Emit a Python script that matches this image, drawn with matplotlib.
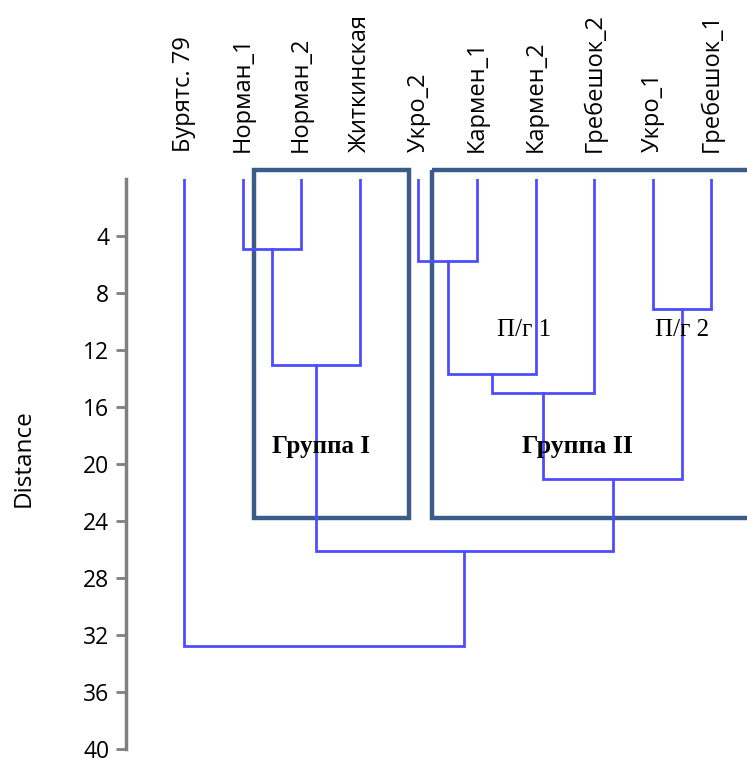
import matplotlib
matplotlib.use("Agg")
import matplotlib.pyplot as plt
from matplotlib.patches import Rectangle

# Leaf order along the horizontal axis
leaves = ["Бурятс. 79", "Норман_1", "Норман_2", "Житкинская", "Укро_2",
          "Кармен_1", "Кармен_2", "Гребешок_2", "Укро_1", "Гребешок_1"]

# Linkage: each merge joins two nodes (leaf index or earlier merge id) at a distance
merge_left = [1, 4, 8, 10, 11, 14, 15, 13, 0]
merge_right = [2, 5, 9, 3, 6, 7, 12, 16, 17]
merge_height = [4.9, 5.75, 9.1, 13.05, 13.7, 15.0, 21.05, 26.1, 32.8]

y_ticks = [4, 8, 12, 16, 20, 24, 28, 32, 36, 40]

line_color = (0.3, 0.3, 1.0)
box_color = "#3b5b88"
sans = ["Open Sans", "DejaVu Sans"]
serif = ["Liberation Serif", "DejaVu Serif"]

W, H = 747, 758
fig = plt.figure(figsize=(W / 100, H / 100), dpi=100)
ax = fig.add_axes([126 / W, 9 / H, (W - 126) / W, 570 / H])

# node positions: leaves at their index, merges at the midpoint of their children
node_x = {i: float(i) for i in range(len(leaves))}
node_y = {i: 0.0 for i in range(len(leaves))}
n = len(leaves)
for k, (a, b, h) in enumerate(zip(merge_left, merge_right, merge_height)):
    xa, xb = node_x[a], node_x[b]
    ax.plot([xa, xa, xb, xb], [node_y[a], h, h, node_y[b]],
            color=line_color, lw=2, solid_joinstyle="miter")
    node_x[n + k] = (xa + xb) / 2
    node_y[n + k] = h

ax.set_xlim((126 - 184) / 58.6, (W - 184) / 58.6)
ax.set_ylim(40, 0)
ax.set_yticks(y_ticks)
ax.set_xticks([])
for s in ["top", "right", "bottom"]:
    ax.spines[s].set_visible(False)
ax.spines["left"].set_color("#7f7f7f")
ax.spines["left"].set_linewidth(2.5)
ax.tick_params(axis="y", length=7, width=2, color="#7f7f7f",
               labelsize=16.5, pad=5)
for lbl in ax.get_yticklabels():
    lbl.set_family(sans)
fig.text(24 / W, 1 - 458 / H, "Distance", rotation=90, ha="center",
         va="center", fontsize=17.5, family=sans)

# leaf names above the tree
for i, name in enumerate(leaves):
    ax.text(i, -1.9, name, rotation=90, ha="center", va="bottom",
            fontsize=17, family=sans, clip_on=False)

# group frames
ax.add_patch(Rectangle((1.19, -0.63), 3.84 - 1.19, 23.8 + 0.63, fill=False,
                       ec=box_color, lw=3.2, clip_on=False))
ax.add_patch(Rectangle((4.23, -0.63), 9.9 - 4.23, 23.8 + 0.63, fill=False,
                       ec=box_color, lw=3.2, clip_on=False))

ax.text(2.34, 18.8, "Группа I", ha="center", va="center", fontsize=18,
        fontweight="bold", family=serif)
ax.text(6.72, 18.8, "Группа II", ha="center", va="center", fontsize=18.5,
        fontweight="bold", family=serif)
ax.text(5.8, 10.6, "П/г 1", ha="center", va="center", fontsize=18, family=serif)
ax.text(8.5, 10.6, "П/г 2", ha="center", va="center", fontsize=18, family=serif)

fig.savefig("out.png", dpi=100)
